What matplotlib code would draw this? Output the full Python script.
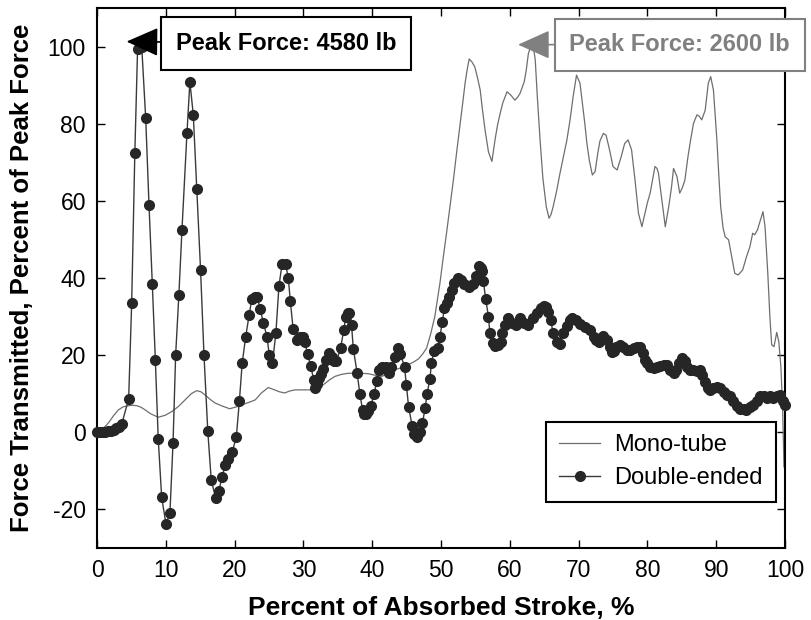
import matplotlib
matplotlib.use("Agg")
import matplotlib.pyplot as plt

plt.rcParams['font.family'] = ['Liberation Sans', 'DejaVu Sans']
plt.rcParams['axes.unicode_minus'] = False

# Double-ended series (x: % of stroke, y: % of peak force)
de_x = [0, 0.4, 0.8, 1.2, 1.6, 2.0, 2.4, 2.8, 3.2, 3.6, 4.6, 5.04, 5.5, 5.9, 6.5, 7.08, 7.56, 8.04,
        8.48, 8.9, 9.4, 10.03, 10.6, 11.05, 11.43, 11.9, 12.35, 13.08, 13.5, 14.0, 14.5, 15.05, 15.55,
        16.1, 16.6, 17.25, 17.7, 18.2, 18.6, 19.04, 19.67, 20.25, 20.7, 21.1, 21.6, 22.1, 22.5, 22.9,
        23.3, 23.7, 24.2, 24.7, 25.05, 25.5, 26.0, 26.45, 26.9, 27.4, 27.8, 28.1, 28.5, 29.0, 29.5,
        30.0, 30.2, 30.6, 31.06, 31.5, 31.7, 32.0, 32.3, 32.6, 32.9, 33.24, 33.7, 34.1, 34.4, 34.8,
        35.4, 35.86, 36.15, 36.45, 36.7, 37.0, 37.25, 37.8, 38.2, 38.6, 38.85, 39.1, 39.4, 39.8,
        40.26, 40.7, 41.0, 41.4, 41.96, 42.4, 42.8, 43.3, 43.7, 44.1, 44.7, 44.96, 45.3, 45.8, 46.1,
        46.5, 46.95, 47.3, 47.7, 47.96, 48.4, 48.6, 49.0, 49.5, 49.85, 50.2, 50.5, 50.8, 51.2, 51.55,
        51.9, 52.4, 52.9, 53.4, 54.0, 54.6, 55.1, 55.5, 55.8, 56.0, 56.15, 56.5, 56.9, 57.1, 57.5,
        57.9, 58.3, 58.7, 58.9, 59.3, 59.8, 60.3, 60.9, 61.5, 62.1, 62.7, 63.3, 63.9, 64.5, 64.9,
        65.3, 65.6, 65.95, 66.3, 66.8, 67.3, 67.8, 68.3, 68.7, 69.0, 69.6, 70.2, 70.9, 71.66, 72.2,
        72.6, 72.9, 73.5, 74.1, 74.5, 74.8, 75.2, 75.5, 76.0, 76.5, 77.0, 77.5, 78.0, 78.5, 78.9,
        79.3, 79.6, 79.9, 80.4, 80.9, 81.4, 81.9, 82.4, 82.8, 83.3, 83.8, 84.2, 84.6, 85.0, 85.4,
        85.8, 86.2, 86.7, 87.2, 87.6, 88.0, 88.4, 88.8, 89.1, 89.6, 90.1, 90.6, 91.1, 91.6, 92.0,
        92.5, 93.0, 93.5, 94.0, 94.4, 94.9, 95.4, 95.9, 96.4, 96.9, 97.4, 97.8, 98.3, 98.8, 99.3,
        99.7, 100.0]
de_y = [0, 0, 0.1, 0.2, 0.3, 0.4, 0.7, 1.0, 1.5, 2.2, 8.6, 33.5, 72.5, 99.5, 100, 81.4, 58.9, 38.4,
        18.8, -1.7, -16.9, -23.8, -20.9, -2.8, 20, 35.6, 52.5, 77.7, 90.9, 82.2, 63.1, 42.2, 20,
        0.4, -12.3, -17.1, -15.1, -11.5, -8.6, -6.9, -5, -1.2, 8.2, 17.9, 24.6, 30.3, 34.5, 35.0,
        35.2, 32, 28.3, 24.8, 20, 17.9, 25.7, 38, 43.6, 43.6, 40.1, 34, 26.9, 24, 24.8,
        24.8, 23.3, 20.3, 17.2, 13.6, 11.5, 12.5, 14.0, 15.2, 16.4, 18.8, 20.5, 19.5, 18.4, 18.4,
        21.8, 26.4, 29.8, 30.8, 31, 27.8, 21.7, 15.5, 10, 5.8, 4.8, 4.7, 5.4, 6.7,
        10, 13.4, 16.2, 17.0, 17, 15.5, 17, 19.6, 21.8, 20.3, 17, 12.3, 6.5, 1.7, -0.4,
        -1.2, 0.2, 2.4, 6.3, 9.9, 13.9, 17.9, 21.1, 21.8, 24.8, 28.7, 32.2, 33.5, 35.2, 36.9,
        38.6, 39.9, 39.5, 38.5, 37.6, 38.4, 40.5, 43, 42.5, 41.8, 39.3, 34.5, 30, 25.7, 23.1,
        22.5, 22.6, 23.5, 25.7, 27.8, 29.6, 28.4, 27.8, 29.6, 28.4, 27.8, 29.6, 31, 32.2, 32.8,
        32.4, 31.3, 29, 25.7, 23.5, 22.9, 25.7, 27.6, 29.0, 29.6, 29.1, 28.1, 27.3, 26.6, 24.8,
        23.8, 23.5, 25.0, 24.0, 22.2, 20.9, 21.0, 22.2, 22.7, 22.0, 21.4, 21.4, 21.8, 22.2, 22.2,
        20.5, 18.8, 17.9, 17.0, 16.6, 16.8, 17.2, 17.5, 17.5, 16.2, 15.3, 16.2, 18.0, 19.2, 18.4,
        16.8, 16.2, 16.2, 16.0, 16.2, 14.8, 13.0, 11.5, 11.0, 11.4, 11.8, 11.4, 10.4, 9.6, 9.3,
        8.0, 6.7, 6.0, 6.0, 5.8, 6.5, 7.2, 8.0, 9.3, 9.3, 9.0, 9.3, 9.0, 9.5, 9.7,
        8.0, 7.1]

# Mono-tube series
mt_x = [0, 0.8, 1.65, 2.4, 3.1, 3.8, 4.55, 5.2, 5.77, 6.4, 7.0, 7.8, 8.9, 9.9, 10.9, 11.9, 12.8,
        13.7, 14.5, 15.1, 15.7, 16.4, 17.15, 18.2, 19.3, 20.06, 20.5, 21.5, 22.3, 23.0, 23.9, 24.9,
        25.8, 26.5, 27.3, 28.0, 28.8, 30.0, 31.7, 32.4, 33.1, 33.8, 34.6, 35.5, 36.5, 38.0, 39.4,
        40.4, 41.4, 42.4, 43.3, 44.3, 45.2, 46.0, 46.7, 47.3, 47.9, 48.5, 49.1, 49.85, 50.3, 50.8,
        51.3, 51.8, 52.3, 52.8, 53.2, 53.5, 53.8, 54.1, 54.5, 54.9, 55.3, 55.7, 56.0, 56.4, 56.9,
        57.4, 57.85, 58.2, 58.6, 59.0, 59.6, 60.2, 60.75, 61.1, 61.5, 62.1, 62.4, 62.7, 63.2, 63.5,
        63.7, 64.0, 64.4, 64.8, 65.3, 65.7, 66.0, 66.3, 66.8, 67.3, 67.8, 68.3, 68.8, 69.2, 69.7,
        70.2, 70.5, 70.9, 71.2, 71.55, 72.0, 72.4, 72.8, 73.1, 73.6, 74.0, 74.5, 75.0, 75.6, 76.2,
        76.7, 77.2, 77.7, 78.2, 78.7, 79.2, 79.65, 80.0, 80.4, 80.8, 81.1, 81.4, 81.6, 82.1, 82.6,
        83.1, 83.5, 83.8, 84.3, 84.7, 85.1, 85.45, 85.9, 86.3, 86.7, 87.2, 87.5, 87.9, 88.4, 88.85,
        89.2, 89.6, 90.1, 90.4, 90.65, 91.0, 91.3, 91.8, 92.25, 92.7, 93.2, 93.85, 94.4, 94.9, 95.3,
        95.6, 96.0, 96.5, 96.8, 97.1, 97.5, 97.8, 98.06, 98.4, 98.8, 99.1, 99.4, 99.65, 99.85, 100.0]
mt_y = [0, 0.8, 2.4, 4.3, 5.8, 6.6, 6.9, 7.0, 6.9, 6.5, 5.8, 4.8, 3.9, 4.4, 5.4, 6.8, 8.4,
        10.0, 10.8, 10.5, 9.7, 8.6, 7.6, 6.8, 6.1, 6.5, 6.7, 7.4, 7.9, 8.4, 10.2, 11.6,
        11.0, 10.5, 10.2, 10.7, 11.0, 11.0, 11.0, 11.8, 12.6, 13.6, 14.5, 15.0, 15.3, 15.3, 15.2,
        14.8, 14.5, 15.3, 16.2, 16.8, 17.5, 18.2, 19.0, 20.2, 21.8, 25.5, 30.0, 38.7, 45.0, 51.6,
        58.5, 65.4, 73.0, 80.1, 86.0, 90.5, 94.0, 96.8, 96.0, 94.8, 92.0, 88.7, 84.0, 78.4, 72.7,
        70.2, 75.8, 79.5, 82.7, 85.5, 88.3, 87.3, 86.1, 86.8, 87.9, 90.9, 94.0, 98.2, 100.8, 99.0,
        96.5, 87.0, 75.8, 66.0, 58.5, 55.5, 56.5, 58.5, 62.5, 67.2, 71.5, 75.8, 81.5, 87.0, 92.6,
        90.5, 86.0, 80.1, 75.0, 70.6, 66.7, 67.6, 72.5, 75.5, 77.5, 77.0, 73.2, 68.9, 68.0, 71.5,
        74.9, 75.8, 73.2, 65.4, 56.8, 53.3, 56.8, 59.5, 62.0, 66.0, 68.9, 68.4, 67.2, 60.2, 53.3,
        58.5, 63.5, 68.4, 66.3, 62.0, 63.5, 65.4, 71.5, 76.0, 80.1, 82.3, 82.0, 81.0, 83.5, 90.5,
        92.2, 88.7, 75.8, 66.0, 58.5, 53.0, 50.7, 49.9, 45.5, 41.2, 40.8, 42.1, 45.5, 48.1, 51.6,
        51.2, 52.5, 55.5, 57.2, 53.3, 41.2, 30.0, 22.7, 22.2, 25.9, 23.5, 17.0, 6.7, -8.9, -9.5]

x_ticks = [0, 10, 20, 30, 40, 50, 60, 70, 80, 90, 100]
y_ticks = [-20, 0, 20, 40, 60, 80, 100]

fig = plt.figure(figsize=(8.11, 6.2), dpi=100)
ax = fig.add_axes([97/811, 1-548/620, 688/811, 540/620])

ax.plot(mt_x, mt_y, color='#6e6e6e', lw=0.9, label='Mono-tube', clip_on=False, zorder=2)
ax.plot(de_x, de_y, color='#3a3a3a', lw=1.0, marker='o', markersize=7,
        markerfacecolor='#262626', markeredgecolor='#262626', label='Double-ended',
        clip_on=False, zorder=3)

ax.set_xlim(0, 100)
ax.set_ylim(-30, 110)
ax.set_xticks(x_ticks)
ax.set_yticks(y_ticks)
ax.tick_params(direction='in', top=True, right=True, length=6, width=1, labelsize=16.5, pad=8)
for s in ax.spines.values():
    s.set_linewidth(1.5)

ax.set_xlabel('Percent of Absorbed Stroke, %', fontsize=19, fontweight='bold', labelpad=10)
ax.set_ylabel('Force Transmitted, Percent of Peak Force', fontsize=18.5, fontweight='bold', labelpad=10)

ax.annotate('Peak Force: 4580 lb', xy=(4.3, 101.3), xytext=(27.5, 100.8), textcoords='data',
            fontsize=17, fontweight='bold', color='black', ha='center', va='center',
            bbox=dict(boxstyle='square,pad=0.62', fc='white', ec='black', lw=1.5),
            arrowprops=dict(arrowstyle='-|>,head_length=1.0,head_width=0.45', color='black',
                            lw=1.2, shrinkA=0, shrinkB=0, mutation_scale=20),
            zorder=5, annotation_clip=False)

ax.annotate('Peak Force: 2600 lb', xy=(61.2, 100.5), xytext=(84.7, 100.5), textcoords='data',
            fontsize=17, fontweight='bold', color='#808080', ha='center', va='center',
            bbox=dict(boxstyle='square,pad=0.62', fc='white', ec='#808080', lw=1.5),
            arrowprops=dict(arrowstyle='-|>,head_length=1.0,head_width=0.45', color='#808080',
                            lw=1.2, shrinkA=0, shrinkB=0, mutation_scale=20),
            zorder=5, annotation_clip=False)

leg = ax.legend(loc='lower right', bbox_to_anchor=(0.987, 0.085), fontsize=17,
                fancybox=False, framealpha=1, edgecolor='black', handlelength=1.75,
                handletextpad=0.6, borderpad=0.55, labelspacing=0.45, borderaxespad=0)
leg.get_frame().set_linewidth(1.5)

fig.savefig('out.png', dpi=100)
